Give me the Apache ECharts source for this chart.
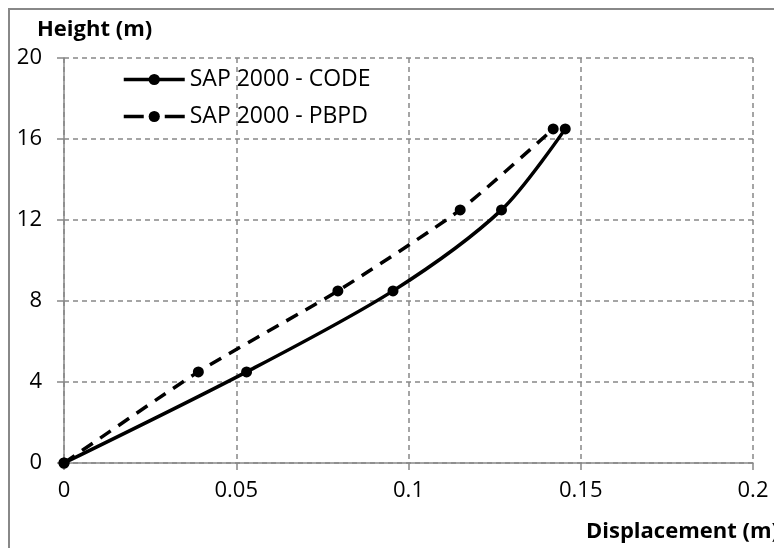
<!DOCTYPE html>
<html>
<head>
<meta charset="utf-8">
<script src="https://cdn.jsdelivr.net/npm/echarts@6/dist/echarts.min.js"></script>
<style>html,body{margin:0;padding:0;background:#fff;}#c{width:774px;height:548px;}</style>
</head>
<body>
<div id="c"></div>
<script>
var seriesNames = ['SAP 2000 - CODE', 'SAP 2000 - PBPD'];
var codeDisp = [0, 0.053, 0.0955, 0.127, 0.1455];
var codeHeight = [0, 4.5, 8.5, 12.5, 16.5];
var pbpdDisp = [0, 0.039, 0.0795, 0.115, 0.142];
var pbpdHeight = [0, 4.5, 8.5, 12.5, 16.5];
var xTicks = [0, 0.05, 0.1, 0.15, 0.2];
var yTicks = [0, 4, 8, 12, 16, 20];

function pairs(xs, ys) { return xs.map(function (x, i) { return [x, ys[i]]; }); }
function tickText(list) {
  return function (v) { var s = list.find(function (t) { return Math.abs(t - v) < 1e-9; }); return s === undefined ? '' : String(s); };
}

var font = '"Open Sans", "Noto Sans", sans-serif';
var chart = echarts.init(document.getElementById('c'), null, { renderer: 'canvas' });
chart.setOption({
  animation: false,
  backgroundColor: '#fff',
  graphic: [
    { type: 'rect', shape: { x: 9, y: 9, width: 800, height: 600 }, style: { fill: 'none', stroke: '#888', lineWidth: 2 }, z: 0 },
    { type: 'text', left: 37, top: 19, style: { text: 'Height (m)', font: 'bold 22px ' + font, fill: '#000' } },
    { type: 'text', left: 586, top: 521, style: { text: 'Displacement (m)', font: 'bold 22px ' + font, fill: '#000' } }
  ],
  grid: { left: 64, right: 21, top: 58, bottom: 85, containLabel: false },
  legend: {
    left: 117, top: 63, orient: 'vertical', itemGap: 14, itemWidth: 61, itemHeight: 14,
    textStyle: { fontFamily: font, fontSize: 23, color: '#000' },
    lineStyle: { width: 3.5 },
    data: [
      { name: seriesNames[0] },
      { name: seriesNames[1], lineStyle: { width: 3.5, type: [20, 21] } }
    ]
  },
  xAxis: {
    type: 'value', min: 0, max: 0.2, interval: 0.05,
    axisLine: { show: true, lineStyle: { color: '#888', width: 1.5 } },
    axisTick: { show: true, length: 7, lineStyle: { color: '#888', width: 1.5 } },
    axisLabel: { fontFamily: font, fontSize: 22, color: '#000', margin: 17, formatter: tickText(xTicks) },
    splitLine: { show: true, lineStyle: { color: '#888', type: [5, 4], width: 1.5 } }
  },
  yAxis: {
    type: 'value', min: 0, max: 20, interval: 4,
    axisLine: { show: true, lineStyle: { color: '#888', width: 1.5 } },
    axisTick: { show: true, length: 7, lineStyle: { color: '#888', width: 1.5 } },
    axisLabel: { fontFamily: font, fontSize: 22, color: '#000', margin: 22, formatter: tickText(yTicks) },
    splitLine: { show: true, lineStyle: { color: '#888', type: [5, 4], width: 1.5 } }
  },
  series: [
    {
      name: seriesNames[0], type: 'line', smooth: 0.3, data: pairs(codeDisp, codeHeight),
      symbol: 'circle', symbolSize: 11,
      lineStyle: { color: '#000', width: 3.5 }, itemStyle: { color: '#000' }
    },
    {
      name: seriesNames[1], type: 'line', smooth: 0.2, data: pairs(pbpdDisp, pbpdHeight),
      symbol: 'circle', symbolSize: 11,
      lineStyle: { color: '#000', width: 3.5, type: [13, 9] }, itemStyle: { color: '#000' }
    }
  ]
});
</script>
</body>
</html>
